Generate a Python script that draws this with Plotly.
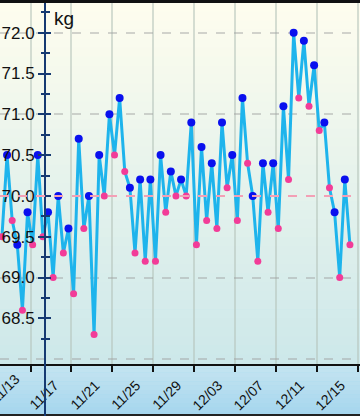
import pandas as pd
import plotly.graph_objects as go

# ---- data ----
days = pd.date_range("2023-11-14", "2023-12-18", freq="D")
morning = [69.5, 69.7, 68.6, 69.4, 69.5, 69.0, 69.3, 68.8, 69.6, 68.3, 70.0, 70.5,
           70.3, 69.3, 69.2, 69.2, 69.8, 70.0, 70.0, 69.4, 69.7, 69.6, 70.1, 69.7,
           70.4, 69.2, 69.8, 69.6, 70.2, 71.2, 71.1, 70.8, 70.1, 69.0, 69.4]
evening = [70.5, 69.4, 69.8, 70.5, 69.8, 70.0, 69.6, 70.7, 70.0, 70.5, 71.0, 71.2,
           70.1, 70.2, 70.2, 70.5, 70.3, 70.2, 70.9, 70.6, 70.4, 70.9, 70.5, 71.2,
           70.0, 70.4, 70.4, 71.1, 72.0, 71.9, 71.6, 70.9, 69.8, 70.2]
target = 70.0
y_ticks = [68.5, 69.0, 69.5, 70.0, 70.5, 71.0, 71.5, 72.0]
y_minor = [68.25, 68.75, 69.25, 69.75, 70.25, 70.75, 71.25, 71.75, 72.25]
y_grid = [68, 69, 70, 71, 72]
x_range = ["2023-11-14 00:25", "2023-12-19 04:36"]
x_tick0 = "2023-11-13"

t_m = [d + pd.Timedelta(hours=5) for d in days[:len(morning)]]
t_e = [d + pd.Timedelta(hours=17) for d in days[:len(evening)]]
df = pd.DataFrame({"t": t_m + t_e, "v": morning + evening}).sort_values("t")

W, H = 360, 416
T, B = 3, 52
ph = H - T - B
yr = [67.94, 72.364]
FONT = "Liberation Sans, Arial, sans-serif"
NAVY = "#163a72"
XFS = 14

fig = go.Figure()
fig.add_trace(go.Scatter(x=df["t"], y=df["v"], mode="lines",
                         line=dict(color="#1eb4ec", width=3), yaxis="y",
                         hoverinfo="skip", showlegend=False))
fig.add_trace(go.Scatter(x=t_e, y=evening, mode="markers",
                         marker=dict(color="#0a10ee", size=8), yaxis="y2",
                         showlegend=False))
fig.add_trace(go.Scatter(x=t_m, y=morning, mode="markers",
                         marker=dict(color="#f23c98", size=7), yaxis="y3",
                         showlegend=False))

shapes = []
def mix(c1, c2, f):
    return "rgb(%d,%d,%d)" % tuple(round(a + (b - a) * f) for a, b in zip(c1, c2))
top_c, bot_c = (254, 253, 238), (205, 232, 234)
n = 40
for i in range(n):
    shapes.append(dict(type="rect", xref="paper", yref="paper", x0=0, x1=1,
                       y0=1 - (i + 1) / n, y1=1 - i / n + 0.002,
                       fillcolor=mix(top_c, bot_c, i / (n - 1)), line_width=0, layer="below"))
bt, bb = (196, 228, 240), (166, 214, 238)
nb = 12
y_bot = -B / ph
for i in range(nb):
    shapes.append(dict(type="rect", xref="paper", yref="paper", x0=0, x1=1,
                       y0=y_bot * (i + 1) / nb, y1=y_bot * i / nb,
                       fillcolor=mix(bt, bb, i / (nb - 1)), line_width=0, layer="below"))
shapes.append(dict(type="rect", xref="paper", yref="paper", x0=0, x1=1, y0=1, y1=1 + T / ph,
                   fillcolor="#111", line_width=0, layer="above"))
shapes.append(dict(type="rect", xref="paper", yref="paper", x0=0, x1=1, y0=y_bot, y1=y_bot + 2 / ph,
                   fillcolor="#222", line_width=0, layer="above"))
shapes.append(dict(type="line", xref="paper", yref="paper", x0=45 / W, x1=45 / W, y0=y_bot, y1=0,
                   line=dict(color=NAVY, width=2), layer="above"))
shapes.append(dict(type="line", xref="paper", yref="y", x0=0, x1=1, y0=target, y1=target,
                   line=dict(color="#f3a0b6", width=2, dash="dash"), layer="above"))

# label for the tick that lies just left of the visible range
r0, r1 = pd.Timestamp(x_range[0]), pd.Timestamp(x_range[1])
fx_first = (pd.Timestamp(x_tick0) - r0) / (r1 - r0)

fig.update_layout(
    width=W, height=H,
    margin=dict(l=0, r=0, t=T, b=B, autoexpand=False),
    paper_bgcolor="#a8d8ee", plot_bgcolor="rgba(0,0,0,0)",
    font=dict(family=FONT, size=17, color="#111"),
    shapes=shapes,
    xaxis=dict(type="date", range=x_range,
               tick0=x_tick0, dtick=4 * 86400000, tickformat="%m/%d",
               tickangle=-45, ticks="outside", ticklen=6, tickwidth=1.5, tickcolor="#111",
               showline=True, linecolor="#111", linewidth=1.5,
               showgrid=True, gridcolor="rgba(180,195,185,0.55)", gridwidth=1.5,
               ticklabelshift=24, ticklabelstandoff=0, automargin=False,
               tickfont=dict(size=XFS, color="#111"), zeroline=False, fixedrange=True),
    yaxis=dict(range=yr, anchor="free", position=45 / W, tickmode="array", automargin=False,
               tickvals=y_ticks, ticktext=["%.1f" % v for v in y_ticks],
               ticks="outside", ticklen=6, tickwidth=2, tickcolor=NAVY,
               showline=True, linecolor=NAVY, linewidth=2, showgrid=False, zeroline=False,
               minor=dict(tickmode="array", tickvals=y_minor, ticks="outside",
                          ticklen=3, tickwidth=2, tickcolor=NAVY, showgrid=False),
               tickfont=dict(size=17, color="#111")),
    yaxis2=dict(range=yr, overlaying="y", anchor="free", position=45 / W, automargin=False,
                tickmode="array", tickvals=y_ticks, ticks="inside", ticklen=5, tickwidth=2,
                tickcolor=NAVY, showticklabels=False, showline=False, showgrid=False,
                zeroline=False,
                minor=dict(tickmode="array", tickvals=y_minor, ticks="inside",
                           ticklen=4, tickwidth=2, tickcolor=NAVY, showgrid=False)),
    yaxis3=dict(range=yr, overlaying="y", tickmode="array", tickvals=y_grid, automargin=False,
                showticklabels=False, ticks="", showline=False, zeroline=False,
                showgrid=True, gridcolor="rgba(160,160,160,0.45)", griddash="dash",
                gridwidth=1.5),
    annotations=[
        dict(text="kg", xref="paper", yref="paper", x=52 / W, y=1 - 15 / ph,
             xanchor="left", yanchor="middle", showarrow=False,
             font=dict(size=19, color="#111")),
        dict(text=pd.Timestamp(x_tick0).strftime("%m/%d"), xref="paper", yref="paper",
             x=fx_first, y=-25 / ph, xshift=15, xanchor="center", yanchor="middle",
             textangle=-45, showarrow=False, font=dict(size=XFS, color="#111")),
    ],
)

fig.write_html("out.html", config={"displayModeBar": False},
               post_script="document.body.style.margin='0';")
